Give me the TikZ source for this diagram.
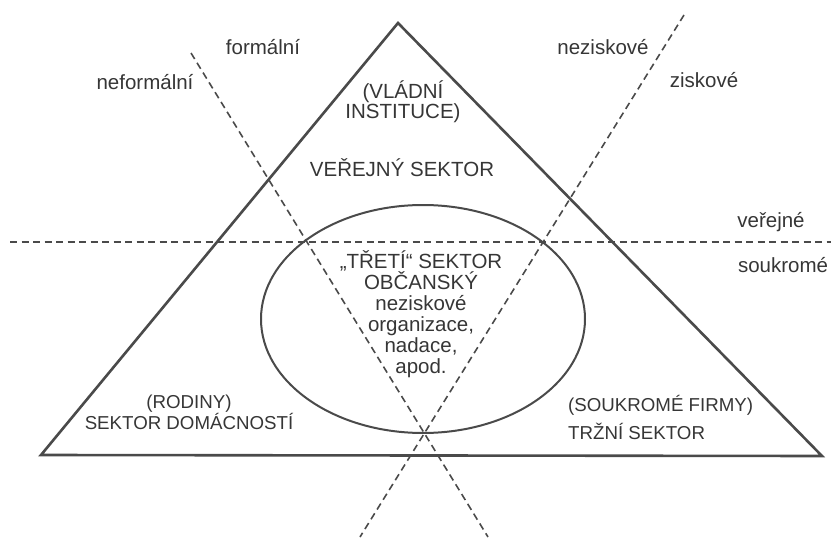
\documentclass[tikz,border=0pt]{standalone}
\usepackage{fontspec}
\setmainfont{Liberation Sans}
\usetikzlibrary{positioning}
\definecolor{inkgray}{HTML}{363636}
\definecolor{linegray}{HTML}{4A4A4A}
\tikzstyle{sidetext} = [text=inkgray, inner sep=0pt, font=\fontsize{20.5}{21}\selectfont]
\tikzstyle{sectortext} = [text=inkgray, inner sep=0pt, align=center, font=\fontsize{20.5}{20}\selectfont]
\tikzstyle{cornertext} = [text=inkgray, inner sep=0pt, font=\fontsize{18.7}{21}\selectfont]
\tikzstyle{divider} = [draw=linegray, line width=1.6pt, dash pattern=on 7pt off 4.5pt]
\tikzstyle{outline} = [draw=linegray, line width=2.6pt, line join=miter]

\begin{document}
\begin{tikzpicture}[x=1pt, y=-1pt]
\useasboundingbox (0,0) rectangle (831,538);

% Triangle corners
\coordinate (apex) at (398,23);
\coordinate (left) at (41,455);
\coordinate (right) at (822,456);

% Dividing lines
\coordinate (pubwest) at (10,242);
\coordinate (pubeast) at (831,242);
\coordinate (formtop) at (191,53);
\coordinate (formbot) at (488,537);
\coordinate (profittop) at (684,15);
\coordinate (profitbot) at (360,537);
\draw[divider] (pubwest) -- (pubeast);
\draw[divider] (formtop) -- (formbot);
\draw[divider] (profittop) -- (profitbot);

% Sectors
\draw[outline] (apex) -- (left) -- (right) -- cycle;
\draw[draw=linegray, line width=2pt] (423,319) ellipse [x radius=162pt, y radius=114pt];

% Labels of the dividing lines
\node[sidetext] (formal) at (263,47) {formální};
\node[sidetext] (informal) at (145,82) {neformální};
\node[sidetext] (nonprofit) at (603,47) {neziskové};
\node[sidetext] (profit) at (704,80) {ziskové};
\node[sidetext] (public) at (771,222) {veřejné};
\node[sidetext] (private) at (783,265) {soukromé};

% Sector texts
\node[sectortext] (govt) at (403,102) {(VLÁDNÍ\\INSTITUCE)};
\node[sectortext] (pubsector) at (402,168) {VEŘEJNÝ SEKTOR};
\node[sectortext, font=\fontsize{20.5}{21}\selectfont] (civic) at (421,314) {„TŘETÍ“ SEKTOR\\OBČANSKÝ\\neziskové\\organizace,\\nadace,\\apod.};
\node[cornertext, align=center] (homes) at (189,412) {(RODINY)\\SEKTOR DOMÁCNOSTÍ};
\node[cornertext, align=left, font=\fontsize{18.7}{28}\selectfont, anchor=west] (firms) at (568,417) {(SOUKROMÉ FIRMY)\\TRŽNÍ SEKTOR};

\end{tikzpicture}
\end{document}
